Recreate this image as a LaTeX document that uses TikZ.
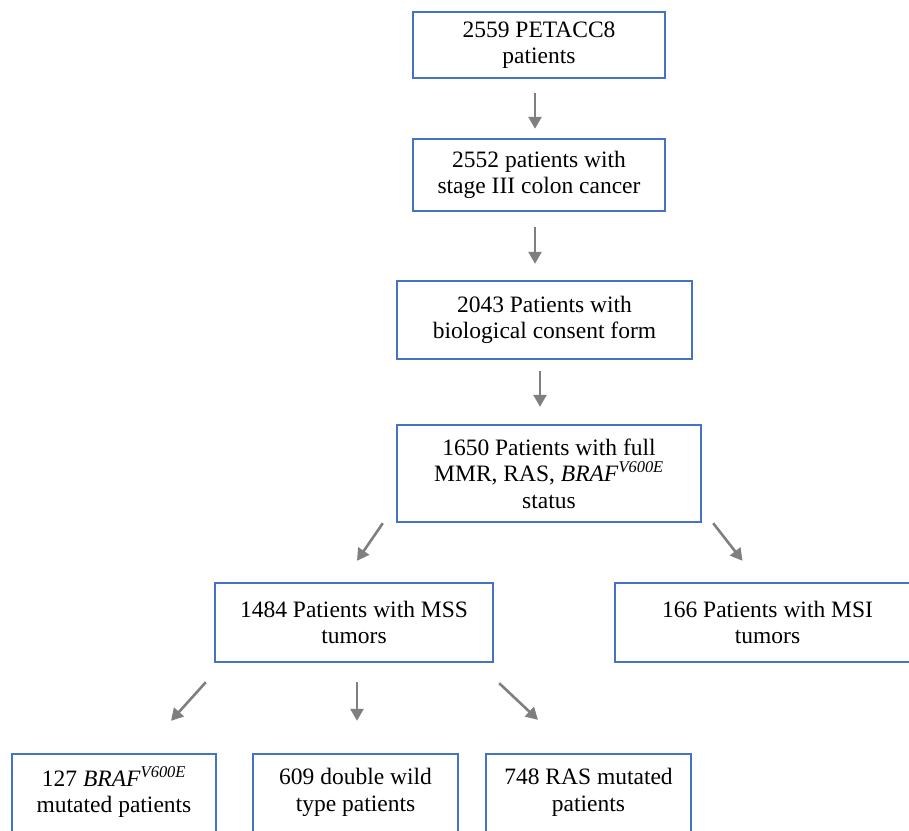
\documentclass[tikz,border=0pt]{standalone}
\usepackage{fontspec}
\setmainfont{Liberation Serif}
\usetikzlibrary{arrows.meta}
\definecolor{boxblue}{HTML}{4472C4}
\definecolor{arrowgray}{HTML}{7F7F7F}

\begin{document}
\begin{tikzpicture}[x=1pt, y=-1pt,
	every node/.style={font=\fontsize{23.5}{26.5}\selectfont},
	box/.style={draw=boxblue, line width=2.4pt, align=center, inner sep=0pt},
	arr/.style={draw=arrowgray, line width=2.6pt, -{Triangle[length=12pt,width=13pt]}}]
	\useasboundingbox (0,0) rectangle (909,830);
	\clip (0,0) rectangle (909,830);
	% main chain
	\node[box, minimum width=252, minimum height=66] (petacc) at (539,45) {2559 PETACC8\\patients};
	\node[box, minimum width=252, minimum height=72] (stage) at (539,175) {2552 patients with\\stage III colon cancer};
	\node[box, minimum width=295, minimum height=78] (consent) at (544.5,320) {2043 Patients with\\biological consent form};
	\node[box, minimum width=304, minimum height=97] (full) at (549,473.5) {1650 Patients with full\\MMR, RAS, \textit{BRAF}\textsuperscript{\textit{V600E}}\\status};
	% MSS / MSI
	\node[box, minimum width=278, minimum height=79] (mss) at (354,622.5) {1484 Patients with MSS\\tumors};
	\node[box, minimum width=305, minimum height=79] (msi) at (767.5,622.5) {166 Patients with MSI\\tumors};
	% MSS subgroups
	\node[box, minimum width=204, minimum height=98] (braf) at (114,803) {127 \textit{BRAF}\textsuperscript{\textit{V600E}}\\mutated patients\\\mbox{}};
	\node[box, minimum width=205, minimum height=98] (wt) at (355.5,803) {609 double wild\\type patients\\\mbox{}};
	\node[box, minimum width=205, minimum height=98] (ras) at (588.5,803) {748 RAS mutated\\patients\\\mbox{}};
	% arrows
	\draw[arr] ([xshift=-4pt,yshift=-14pt]petacc.south) -- ([xshift=-4pt,yshift=9pt]stage.north);
	\draw[arr] ([xshift=-4pt,yshift=-15pt]stage.south) -- ([xshift=-9.5pt,yshift=16pt]consent.north);
	\draw[arr] ([xshift=-4.5pt,yshift=-11pt]consent.south) -- ([xshift=-9pt,yshift=17pt]full.north);
	\draw[arr] ([xshift=-13pt]full.south west) -- ([xshift=3pt,yshift=21pt]mss.north);
	\draw[arr] ([xshift=11pt]full.south east) -- ([xshift=-25pt,yshift=21pt]msi.north);
	\draw[arr] ([xshift=-8pt,yshift=-19pt]mss.south west) -- ([xshift=57pt,yshift=32pt]braf.north);
	\draw[arr] ([xshift=3pt,yshift=-19pt]mss.south) -- ([xshift=1.5pt,yshift=32pt]wt.north);
	\draw[arr] ([xshift=5pt,yshift=-20pt]mss.south east) -- ([xshift=-50.5pt,yshift=33pt]ras.north);
\end{tikzpicture}
\end{document}
